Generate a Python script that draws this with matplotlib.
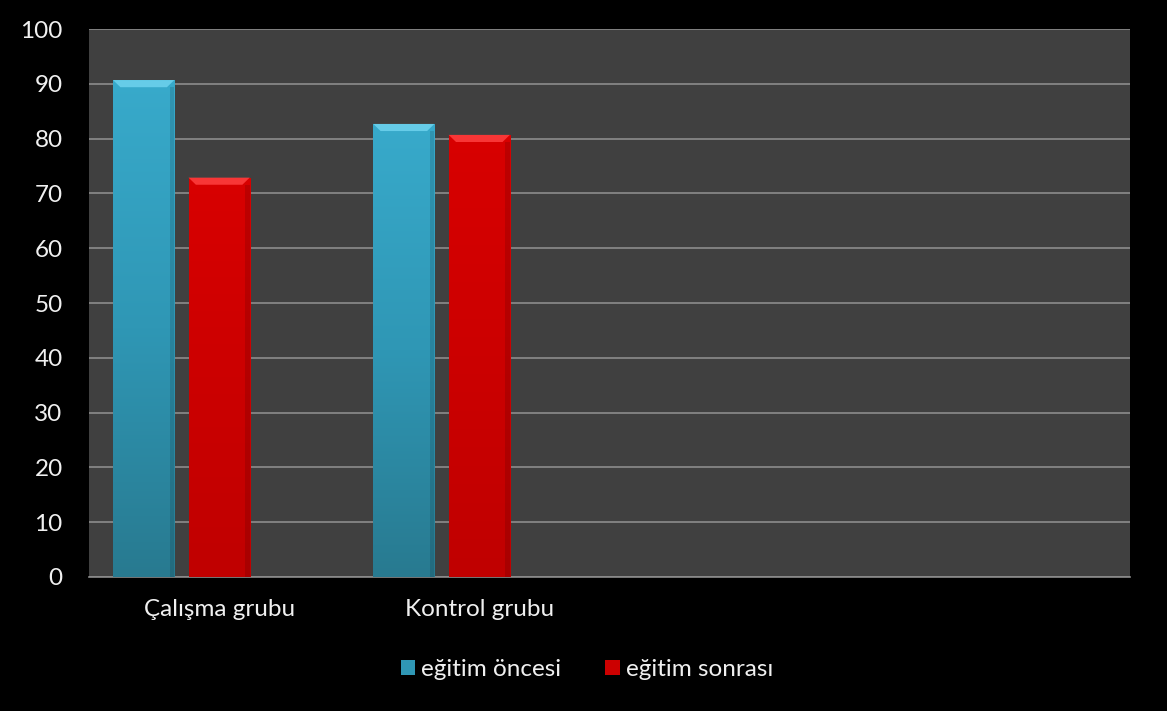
import numpy as np
import matplotlib
matplotlib.use('Agg')
import matplotlib.pyplot as plt
from matplotlib.patches import Polygon, Rectangle
from matplotlib.colors import LinearSegmentedColormap

categories = ['Çalışma grubu', 'Kontrol grubu', '', '']
series_names = ['eğitim öncesi', 'eğitim sonrası']
once = [90.7, 82.7]
sonra = [72.9, 80.7]
yticks = [0, 10, 20, 30, 40, 50, 60, 70, 80, 90, 100]

plt.rcParams['font.family'] = ['Lato', 'DejaVu Sans']

fig = plt.figure(figsize=(11.67, 7.11), dpi=100, facecolor='black')
ax = fig.add_axes([0.0763, 0.1885, 0.8917, 0.7705])
ax.set_facecolor('#404040')

width = 0.235
step = 0.29
# (values, offset, gradient top->bottom, bevel colour)
styles = [
    (once, -step, ('#38aacb', '#2f97b5', '#287a90'), '#6fd3ee'),
    (sonra, 0.0, ('#d80000', '#cc0000', '#c00000'), '#ff4040'),
]

def shade_bar(bar, cols, top_col):
    x0, y0 = bar.get_x(), bar.get_y()
    w, h = bar.get_width(), bar.get_height()
    cmap = LinearSegmentedColormap.from_list('g', list(cols))
    grad = np.linspace(0, 1, 256).reshape(-1, 1)
    # row 0 at the top of the bar
    im = ax.imshow(grad, cmap=cmap, extent=(x0, x0 + w, y0, y0 + h),
                   aspect='auto', zorder=3, origin='lower')
    im.set_array(grad[::-1])
    im.set_clip_path(bar)
    # bevel on top edge
    bx = w * 0.12
    by = 1.3
    ax.add_patch(Polygon([(x0, y0 + h), (x0 + w, y0 + h),
                          (x0 + w - bx, y0 + h - by), (x0 + bx, y0 + h - by)],
                         closed=True, facecolor=top_col, edgecolor='none',
                         alpha=0.85, zorder=4))
    # darker right edge
    ax.add_patch(Rectangle((x0 + w - bx * 0.6, y0), bx * 0.6, h - by,
                           facecolor='black', alpha=0.12, edgecolor='none', zorder=4))

x = np.arange(len(categories))
handles = []
for vals, off, cols, top_col in styles:
    bars = ax.bar(x[:len(vals)] + off, vals, width, color=cols[1], zorder=2)
    handles.append(bars)
    for b in bars:
        shade_bar(b, cols, top_col)

ax.set_xlim(-0.5, len(categories) - 0.5)
ax.set_ylim(0, 100)
ax.set_yticks(yticks)
ax.set_xticks(x)
ax.set_xticklabels(categories)
ax.yaxis.grid(True, color='#8c8c8c', linewidth=1.2, zorder=1)
ax.set_axisbelow(True)
for s in ['top', 'left', 'right']:
    ax.spines[s].set_visible(False)
ax.spines['bottom'].set_color('#8c8c8c')
ax.spines['bottom'].set_linewidth(1.2)
ax.tick_params(axis='both', length=0, colors='#f0f0f0', labelsize=17.5)
ax.tick_params(axis='y', pad=19)
ax.tick_params(axis='x', pad=16)

leg = fig.legend(handles, series_names, loc='center', bbox_to_anchor=(0.503, 0.058),
                 ncol=2, frameon=False, fontsize=17.5, handlelength=0.6,
                 handleheight=0.6, handletextpad=0.25, columnspacing=1.8)
for t in leg.get_texts():
    t.set_color('#f0f0f0')

fig.savefig('out.png', dpi=100, facecolor='black')
